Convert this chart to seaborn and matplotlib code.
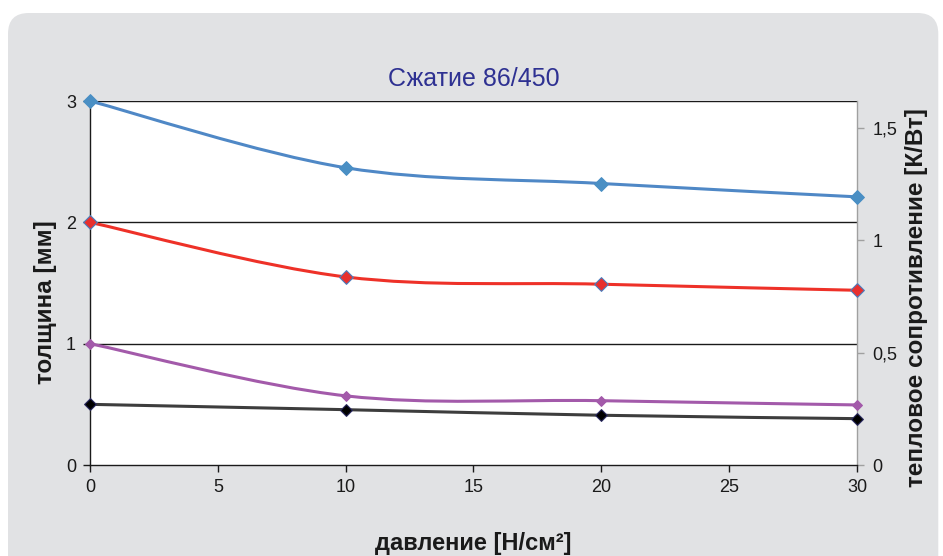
import numpy as np
import pandas as pd
import seaborn as sns
import matplotlib
matplotlib.use("Agg")
import matplotlib.pyplot as plt
from matplotlib.path import Path
from matplotlib.patches import PathPatch, FancyBboxPatch
from matplotlib.ticker import FixedLocator

# --- data -------------------------------------------------------------
pressure = [0, 10, 20, 30]                      # Н/см²
thick_3mm = [3.00, 2.45, 2.32, 2.21]
thick_2mm = [2.00, 1.55, 1.49, 1.44]
thick_1mm = [1.00, 0.57, 0.53, 0.495]
thick_05mm = [0.50, 0.456, 0.41, 0.382]

x_ticks = [0, 5, 10, 15, 20, 25, 30]
left_ticks = [0, 1, 2, 3]
right_ticks = [0, 0.5, 1.0, 1.5]
right_labels = ["0", "0,5", "1", "1,5"]

title = "Сжатие 86/450"
xlabel = "давление [Н/см²]"
ylabel_left = "толщина [мм]"
ylabel_right = "тепловое сопротивление [К/Вт]"

series = [
    # values, line colour, marker face, marker edge, marker size
    (thick_3mm, "#4f88c6", "#4a8fc4", "#4a8fc4", 7),
    (thick_2mm, "#ee3128", "#e8302e", "#4a7fc0", 7),
    (thick_1mm, "#a35aaa", "#a35aaa", "#a35aaa", 5),
    (thick_05mm, "#3d3d3d", "#000000", "#2a2a60", 6),
]

df = pd.DataFrame({
    "pressure": pressure * len(series),
    "value": sum([s[0] for s in series], []),
    "series": sum([[i] * len(pressure) for i in range(len(series))], []),
})

# --- style ------------------------------------------------------------
sns.set_theme(style="white")
plt.rcParams["font.family"] = ["Liberation Sans", "DejaVu Sans"]

fig = plt.figure(figsize=(9.43, 5.56), dpi=100)
fig.patch.set_facecolor("white")

# rounded grey panel behind the chart
panel = FancyBboxPatch((8 / 943, -0.05), 0.995 - 8 / 943, 1 - 13 / 556 + 0.05,
                       boxstyle="round,pad=0,rounding_size=0.022",
                       transform=fig.transFigure, facecolor="#e1e2e4",
                       edgecolor="none", zorder=0, mutation_aspect=943 / 556)
fig.patches.append(panel)

ax = fig.add_axes([90 / 943, 1 - 465 / 556, (857 - 90) / 943, (465 - 101) / 556])
ax.set_facecolor("white")
ax.set_zorder(2)


def smooth_path(xs, ys):
    """Cubic Bezier path through the points (Catmull-Rom tangents)."""
    pts = np.column_stack([xs, ys]).astype(float)
    ext = np.vstack([pts[0], pts, pts[-1]])
    verts = [tuple(pts[0])]
    codes = [Path.MOVETO]
    for i in range(1, len(ext) - 2):
        p0, p1, p2, p3 = ext[i - 1], ext[i], ext[i + 1], ext[i + 2]
        c1 = p1 + (p2 - p0) / 6.0
        c2 = p2 - (p3 - p1) / 6.0
        verts += [tuple(c1), tuple(c2), tuple(p2)]
        codes += [Path.CURVE4] * 3
    return Path(verts, codes)


# horizontal grid lines
for g in [1, 2, 3]:
    ax.axhline(g, color="#1a1a1a", lw=1.0, zorder=1)

for idx, (vals, lc, mf, me, ms) in enumerate(series):
    sub = df[df["series"] == idx]
    ax.add_patch(PathPatch(smooth_path(sub["pressure"], sub["value"]),
                           fill=False, edgecolor=lc, lw=2.2, zorder=3,
                           capstyle="round"))
    sns.scatterplot(data=sub, x="pressure", y="value", marker="D", s=ms ** 2,
                    color=mf, edgecolor=me, linewidth=0.8, ax=ax, zorder=4,
                    legend=False, clip_on=False)

ax.set_xlim(0, 30)
ax.set_ylim(0, 3)
ax.xaxis.set_major_locator(FixedLocator(x_ticks))
ax.yaxis.set_major_locator(FixedLocator(left_ticks))
ax.tick_params(axis="both", direction="out", length=5, width=1, color="#1a1a1a",
               labelsize=13, labelcolor="#1a1a1a", bottom=True, left=True, pad=5)
ax.set_xlabel(xlabel, fontsize=17, fontweight="bold", color="#1a1a1a", labelpad=26)
ax.set_ylabel(ylabel_left, fontsize=17.5, fontweight="bold", color="#1a1a1a")
ax.yaxis.set_label_coords(-0.043, 0.448)
ax.set_title(title, fontsize=18, color="#2e3192", pad=11)

ax.spines["top"].set_visible(False)
ax.spines["left"].set_color("#1a1a1a")
ax.spines["bottom"].set_color("#1a1a1a")
ax.spines["right"].set_color("#a0a0a0")
for sp in ax.spines.values():
    sp.set_linewidth(1.0)

# secondary axis: thermal resistance
ax2 = ax.twinx()
ax2.set_zorder(1)
ax2.set_ylim(0, 1.62)
ax2.yaxis.set_major_locator(FixedLocator(right_ticks))
ax2.set_yticklabels(right_labels)
ax2.tick_params(axis="y", direction="out", length=5, width=1, color="#a0a0a0",
                labelsize=13, labelcolor="#1a1a1a", right=True, pad=6)
ax2.set_ylabel(ylabel_right, fontsize=17.5, fontweight="bold", color="#1a1a1a")
ax2.yaxis.set_label_coords(1.062, 0.46)
for sp in ax2.spines.values():
    sp.set_visible(False)
ax2.grid(False)
ax.grid(False)

fig.savefig("out.png", dpi=100, facecolor=fig.get_facecolor())
